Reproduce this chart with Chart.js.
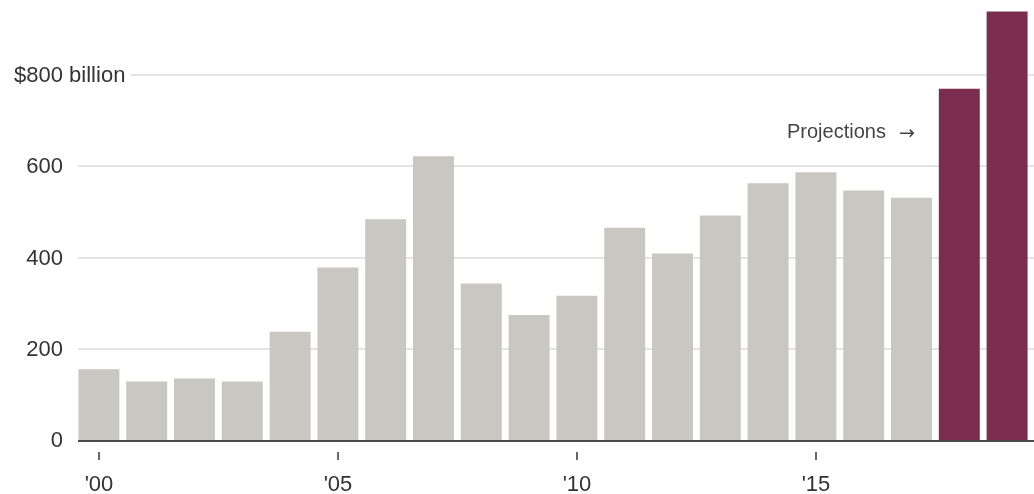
<!DOCTYPE html>
<html>
<head>
<meta charset="utf-8">
<script src="https://cdn.jsdelivr.net/npm/chart.js@4/dist/chart.umd.min.js"></script>
<style>
  html, body { margin: 0; padding: 0; background: #fff; }
  #wrap { width: 1034px; height: 494px; }
</style>
</head>
<body>
<div id="wrap"><canvas id="c" width="1034" height="494"></canvas></div>
<script>
// Annual values, billions of dollars
const years = [2000, 2001, 2002, 2003, 2004, 2005, 2006, 2007, 2008, 2009,
               2010, 2011, 2012, 2013, 2014, 2015, 2016, 2017, 2018, 2019];
const reported = [155, 128, 135, 128, 237, 378, 484, 622, 343, 274,
                  316, 465, 409, 492, 563, 587, 547, 531, null, null];
const projected = [null, null, null, null, null, null, null, null, null, null,
                   null, null, null, null, null, null, null, null, 770, 939];

// Axis labelling
const yTickValues = [0, 200, 400, 600, 800];
const yTickLabels = ['0', '200', '400', '600', '$800'];
const yTopUnit = ' billion';
const xTickYears = [2000, 2005, 2010, 2015];
const xTickLabels = ["'00", "'05", "'10", "'15"];
const projectionNote = 'Projections';
const projectionArrow = '\u2192';

const FONT = '"Liberation Sans", Arial, sans-serif';

const axisPlugin = {
  id: 'axisDecor',
  beforeDatasetsDraw(chart) {
    const ctx = chart.ctx;
    const y = chart.scales.y;
    const W = chart.width;
    const gridLeft = 78;
    ctx.save();
    ctx.font = '22px ' + FONT;
    ctx.textBaseline = 'middle';
    yTickValues.forEach((v, i) => {
      const py = Math.round(y.getPixelForValue(v));
      let startX = gridLeft;
      if (i === yTickValues.length - 1) {
        const numW = ctx.measureText(yTickLabels[i]).width;
        const fullW = ctx.measureText(yTickLabels[i] + yTopUnit).width;
        startX = 63 - numW + fullW + 5;
      }
      if (v !== 0) {
        ctx.strokeStyle = '#e4e4e4';
        ctx.lineWidth = 2;
        ctx.beginPath();
        ctx.moveTo(startX, py);
        ctx.lineTo(W, py);
        ctx.stroke();
      }
    });
    ctx.restore();
  },
  afterDatasetsDraw(chart) {
    const ctx = chart.ctx;
    const x = chart.scales.x;
    const y = chart.scales.y;
    const W = chart.width;
    ctx.save();
    // baseline
    const by = Math.round(y.getPixelForValue(0));
    ctx.strokeStyle = '#4a4a4a';
    ctx.lineWidth = 2;
    ctx.beginPath();
    ctx.moveTo(78, by + 1);
    ctx.lineTo(W, by + 1);
    ctx.stroke();

    // y labels
    ctx.font = '22px ' + FONT;
    ctx.fillStyle = '#333';
    ctx.textBaseline = 'middle';
    yTickValues.forEach((v, i) => {
      const py = y.getPixelForValue(v);
      ctx.textAlign = 'right';
      ctx.fillText(yTickLabels[i], 63, py + 1);
      if (i === yTickValues.length - 1) {
        ctx.textAlign = 'left';
        ctx.fillText(yTopUnit, 63, py + 1);
      }
    });

    // x ticks and labels
    ctx.strokeStyle = '#333';
    ctx.lineWidth = 1.5;
    ctx.fillStyle = '#333';
    ctx.textAlign = 'center';
    xTickYears.forEach((yr, i) => {
      const px = Math.round(x.getPixelForValue(years.indexOf(yr)));
      ctx.beginPath();
      ctx.moveTo(px, by + 12);
      ctx.lineTo(px, by + 20);
      ctx.stroke();
      ctx.fillText(xTickLabels[i], px, by + 45);
    });

    // projection note
    const first = projected.findIndex(v => v !== null);
    const bar = chart.getDatasetMeta(1).data[first];
    const noteY = y.getPixelForValue(673);
    const arrowRight = bar.x - bar.width / 2 - 24;
    ctx.font = '19px "DejaVu Sans", sans-serif';
    ctx.fillStyle = '#444';
    ctx.textAlign = 'right';
    ctx.fillText(projectionArrow, arrowRight, noteY + 1);
    const aw = ctx.measureText(projectionArrow).width;
    ctx.font = '20px ' + FONT;
    ctx.fillText(projectionNote, arrowRight - aw - 13, noteY);
    ctx.restore();
  }
};

new Chart(document.getElementById('c'), {
  type: 'bar',
  data: {
    labels: years.map(String),
    datasets: [
      { data: reported, backgroundColor: '#c8c7c2', categoryPercentage: 1, barPercentage: 0.857 },
      { data: projected, backgroundColor: '#7b2d50', categoryPercentage: 1, barPercentage: 0.857 }
    ]
  },
  options: {
    responsive: false,
    animation: false,
    events: [],
    layout: { padding: { left: 75, right: 3, top: 2, bottom: 54 } },
    plugins: { legend: { display: false }, tooltip: { enabled: false } },
    scales: {
      x: { display: false, stacked: true },
      y: { display: false, stacked: false, min: 0, max: 960 }
    }
  },
  plugins: [axisPlugin]
});
</script>
</body>
</html>
